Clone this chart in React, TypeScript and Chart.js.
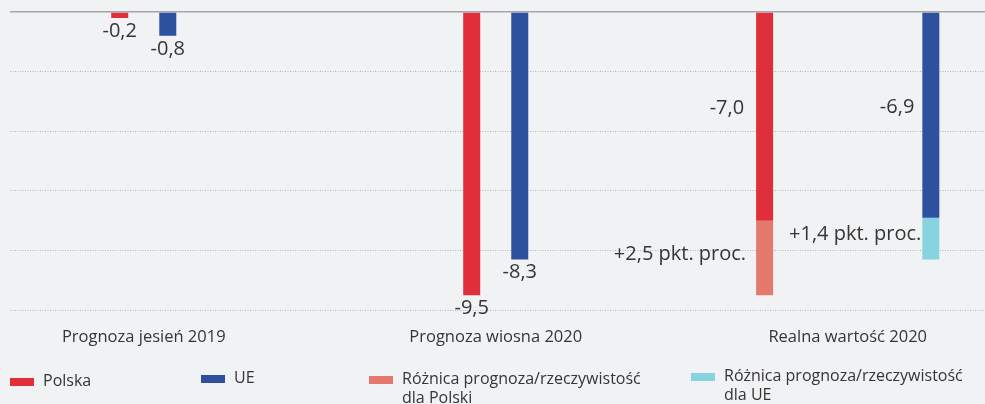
import React, { useEffect, useRef } from 'react';
import { Chart, registerables } from 'chart.js';

Chart.register(...registerables);

// ---- data ----
const categories = ['Prognoza jesień 2019', 'Prognoza wiosna 2020', 'Realna wartość 2020'];
const polska = [-0.2, -9.5, -7.0];
const ue = [-0.8, -8.3, -6.9];
const diffPolska: (number | null)[] = [null, null, 2.5];
const diffUE: (number | null)[] = [null, null, 1.4];
const yMin = -10;
const yMax = 0;
const yStep = 2;
const realIndex = 2; // "Realna wartość" category
const legendLabels = [
  'Polska',
  'UE',
  'Różnica prognoza/rzeczywistość\ndla Polski',
  'Różnica prognoza/rzeczywistość\ndla UE',
];

// ---- styles ----
const FONT = '"Open Sans", sans-serif';
const TEXT = '#353535';
const RED = '#e02e3a';
const BLUE = '#2e519f';
const LRED = '#e5796b';
const CYAN = '#88d3e0';
const BG = '#f1f2f4';
const legendColors = [RED, BLUE, LRED, CYAN];
const legendLayout = [
  { left: 10, top: 371 },
  { left: 201, top: 368 },
  { left: 369, top: 369 },
  { left: 691, top: 366 },
];

const fmt = (v: number) => v.toFixed(1).replace('.', ',');

const onlyAt = (arr: (number | null)[], keep: (i: number) => boolean) =>
  arr.map((v, i) => (keep(i) ? v : null));

const valueLabels = {
  id: 'valueLabels',
  afterDatasetsDraw(chart: any) {
    const ctx = chart.ctx;
    ctx.save();
    ctx.font = `20px ${FONT}`;
    ctx.fillStyle = TEXT;
    chart.data.datasets.forEach((ds: any, di: number) => {
      const meta = chart.getDatasetMeta(di);
      const st = ds.labelStyle;
      if (!st) return;
      meta.data.forEach((el: any, i: number) => {
        const v = ds.data[i];
        if (v == null) return;
        const { x, y, base, width } = el.getProps(['x', 'y', 'base', 'width'], true);
        const text = st.format(i);
        if (st.kind === 'below') {
          ctx.textAlign = 'center';
          ctx.textBaseline = 'middle';
          ctx.fillText(text, x, y + st.dy);
        } else {
          ctx.textAlign = 'right';
          ctx.textBaseline = 'middle';
          ctx.fillText(text, x - width / 2 - st.gap, (y + base) / 2 + st.dy);
        }
      });
    });
    ctx.restore();
  },
};

export default function App() {
  const ref = useRef<HTMLCanvasElement>(null);

  useEffect(() => {
    if (!ref.current) return;
    const isReal = (i: number) => i === realIndex;
    const isForecast = (i: number) => i !== realIndex;
    const forecastOpts = { categoryPercentage: 0.273, barPercentage: 0.9, maxBarThickness: 17 };
    const realOpts = { categoryPercentage: 0.9445, barPercentage: 0.9, maxBarThickness: 17 };

    const chart = new Chart(ref.current, {
      type: 'bar',
      data: {
        labels: categories.map((_, i) => i),
        datasets: [
          {
            label: 'Polska',
            data: onlyAt(polska, isForecast),
            backgroundColor: RED,
            stack: 'pl',
            ...forecastOpts,
            labelStyle: { kind: 'below', dy: 13, format: (i: number) => fmt(polska[i]) },
          } as any,
          {
            label: 'UE',
            data: onlyAt(ue, isForecast),
            backgroundColor: BLUE,
            stack: 'ue',
            ...forecastOpts,
            labelStyle: { kind: 'below', dy: 13, format: (i: number) => fmt(ue[i]) },
          } as any,
          {
            label: 'Polska',
            data: onlyAt(polska, isReal),
            backgroundColor: RED,
            stack: 'pl',
            ...realOpts,
            labelStyle: { kind: 'left', gap: 12, dy: -8, format: (i: number) => fmt(polska[i]) },
          } as any,
          {
            label: 'Różnica prognoza/rzeczywistość dla Polski',
            data: diffPolska.map((v) => (v == null ? null : -v)),
            backgroundColor: LRED,
            stack: 'pl',
            ...realOpts,
            labelStyle: { kind: 'left', gap: 10, dy: -4, format: (i: number) => `+${fmt(diffPolska[i] as number)} pkt. proc.` },
          } as any,
          {
            label: 'UE',
            data: onlyAt(ue, isReal),
            backgroundColor: BLUE,
            stack: 'ue',
            ...realOpts,
            labelStyle: { kind: 'left', gap: 8, dy: -8, format: (i: number) => fmt(ue[i]) },
          } as any,
          {
            label: 'Różnica prognoza/rzeczywistość dla UE',
            data: diffUE.map((v) => (v == null ? null : -v)),
            backgroundColor: CYAN,
            stack: 'ue',
            ...realOpts,
            labelStyle: { kind: 'left', gap: 1, dy: -4, format: (i: number) => `+${fmt(diffUE[i] as number)} pkt. proc.` },
          } as any,
        ],
      },
      options: {
        responsive: false,
        animation: false,
        devicePixelRatio: 1,
        layout: { padding: { left: 10, top: 12, right: 0, bottom: 48 } },
        plugins: { legend: { display: false }, tooltip: { enabled: false } },
        scales: {
          x: {
            type: 'linear',
            min: -0.38,
            max: 2.39,
            offset: false,
            grid: { display: false, offset: false },
            border: { display: false },
            afterBuildTicks: (s: any) => {
              s.ticks = categories.map((_, i) => ({ value: i }));
            },
            ticks: {
              autoSkip: false,
              maxRotation: 0,
              padding: 9,
              color: TEXT,
              font: { family: FONT, size: 16.5 },
              callback: (v: any) => categories[v as number] ?? '',
            },
          },
          y: {
            stacked: true,
            min: yMin,
            max: yMax,
            ticks: { display: false, stepSize: yStep },
            grid: {
              drawTicks: false,
              color: (c: any) => (c.tick && c.tick.value === 0 ? '#a5a5a5' : '#b4b4b4'),
              lineWidth: (c: any) => (c.tick && c.tick.value === 0 ? 1.5 : 1),
            },
            border: {
              display: false,
              dash: (c: any) => (c.tick && c.tick.value === 0 ? [] : [1, 1.5]),
            },
          },
        },
      } as any,
      plugins: [valueLabels],
    });
    return () => chart.destroy();
  }, []);

  return (
    <div style={{ position: 'fixed', left: 0, top: 0, width: 985, height: 404, background: BG, overflow: 'hidden', fontFamily: FONT }}>
      <canvas ref={ref} width={985} height={404} style={{ position: 'absolute', left: 0, top: 0, width: 985, height: 404 }} />
      {legendLabels.map((label, i) => (
        <div key={i} style={{ position: 'absolute', left: legendLayout[i].left, top: legendLayout[i].top, display: 'flex', alignItems: 'flex-start' }}>
          <div style={{ width: 24, height: 8, marginTop: 7, background: legendColors[i], flex: 'none' }} />
          <div style={{ marginLeft: 9, fontSize: 16, lineHeight: '19px', color: TEXT, whiteSpace: 'pre-line' }}>{label}</div>
        </div>
      ))}
    </div>
  );
}
